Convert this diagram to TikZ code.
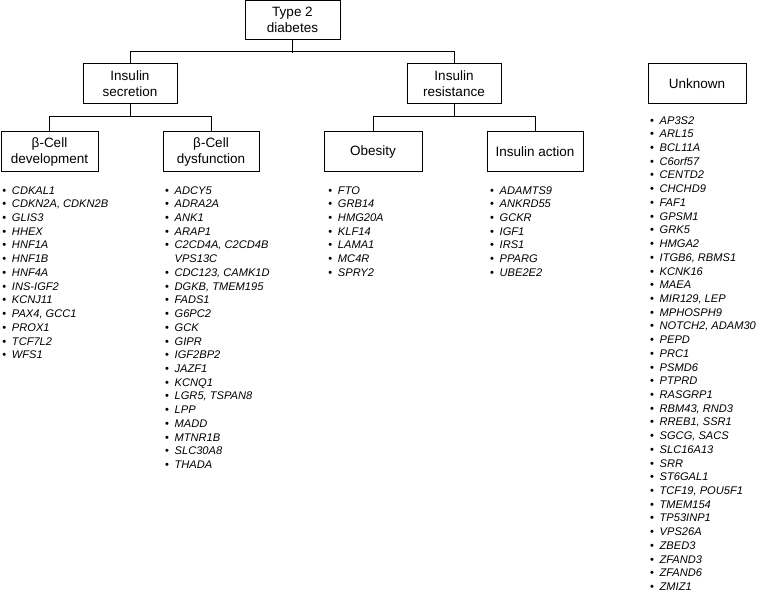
\documentclass[tikz,border=0pt]{standalone}
\usepackage{fontspec}
\setmainfont{Liberation Sans}
\usepackage{array}
\usepackage{tikz}
\usetikzlibrary{positioning}

\newcommand{\gl}{\begin{tabular}{@{}>{\upshape}l@{\hspace{5.8pt}}l@{}}}

\begin{document}
\begin{tikzpicture}[x=1pt, y=-1pt, line width=1pt,
    box/.style={rectangle, draw=black, fill=white, align=center, minimum width=96pt, minimum height=40pt, inner sep=1pt, font=\fontsize{13.5}{16}\selectfont},
    genelist/.style={draw=none, inner sep=0pt, font=\fontsize{11.1}{13.72}\selectfont\itshape}]

    \useasboundingbox (0,0) rectangle (762,593);

    %Nodes
    \node[box, minimum width=95pt, minimum height=38.5pt](t2d) at (292.5,20){Type 2\\diabetes};
    \node[box, minimum width=94pt](secretion) at (130,84){Insulin\\secretion};
    \node[box, minimum width=94pt](resistance) at (454,84){Insulin\\resistance};
    \node[box, minimum width=98pt](unknown) at (697,84){Unknown};
    \node[box, minimum width=97pt](betadev) at (49.5,152){β-Cell\\development};
    \node[box](betadys) at (211,152){β-Cell\\dysfunction};
    \node[box, minimum width=98pt](obesity) at (373,152){Obesity};
    \node[box](action) at (535,152){Insulin action};

    %Gene lists
    \node[genelist, below right=11.5pt and 1.3pt of betadev.south west](devlist){\gl
        • & CDKAL1\\ • & CDKN2A, CDKN2B\\ • & GLIS3\\ • & HHEX\\ • & HNF1A\\
        • & HNF1B\\ • & HNF4A\\ • & INS-IGF2\\ • & KCNJ11\\ • & PAX4, GCC1\\
        • & PROX1\\ • & TCF7L2\\ • & WFS1
    \end{tabular}};
    \node[genelist, below right=11.5pt and 2pt of betadys.south west](dyslist){\gl
        • & ADCY5\\ • & ADRA2A\\ • & ANK1\\ • & ARAP1\\ • & C2CD4A, C2CD4B\\
          & VPS13C\\ • & CDC123, CAMK1D\\ • & DGKB, TMEM195\\ • & FADS1\\ • & G6PC2\\
        • & GCK\\ • & GIPR\\ • & IGF2BP2\\ • & JAZF1\\ • & KCNQ1\\
        • & LGR5, TSPAN8\\ • & LPP\\ • & MADD\\ • & MTNR1B\\ • & SLC30A8\\
        • & THADA
    \end{tabular}};
    \node[genelist, below right=11.5pt and 4.3pt of obesity.south west](obelist){\gl
        • & FTO\\ • & GRB14\\ • & HMG20A\\ • & KLF14\\ • & LAMA1\\
        • & MC4R\\ • & SPRY2
    \end{tabular}};
    \node[genelist, below right=11.5pt and 3pt of action.south west](actlist){\gl
        • & ADAMTS9\\ • & ANKRD55\\ • & GCKR\\ • & IGF1\\ • & IRS1\\
        • & PPARG\\ • & UBE2E2
    \end{tabular}};
    \node[genelist, below right=9.5pt and 2pt of unknown.south west](unklist){\gl
        • & AP3S2\\ • & ARL15\\ • & BCL11A\\ • & C6orf57\\ • & CENTD2\\
        • & CHCHD9\\ • & FAF1\\ • & GPSM1\\ • & GRK5\\ • & HMGA2\\
        • & ITGB6, RBMS1\\ • & KCNK16\\ • & MAEA\\ • & MIR129, LEP\\ • & MPHOSPH9\\
        • & NOTCH2, ADAM30\\ • & PEPD\\ • & PRC1\\ • & PSMD6\\ • & PTPRD\\
        • & RASGRP1\\ • & RBM43, RND3\\ • & RREB1, SSR1\\ • & SGCG, SACS\\ • & SLC16A13\\
        • & SRR\\ • & ST6GAL1\\ • & TCF19, POU5F1\\ • & TMEM154\\ • & TP53INP1\\
        • & VPS26A\\ • & ZBED3\\ • & ZFAND3\\ • & ZFAND6\\ • & ZMIZ1
    \end{tabular}};

    %Lines
    \draw (t2d.south) -- ++(0,13);
    \draw (secretion.north) -- ++(0,-12) -| (resistance.north);
    \draw (secretion.south) -- ++(0,13);
    \draw (betadev.north) -- ++(0,-15) -| (betadys.north);
    \draw (resistance.south) -- ++(0,13);
    \draw (obesity.north) -- ++(0,-15) -| (action.north);

\end{tikzpicture}
\end{document}
